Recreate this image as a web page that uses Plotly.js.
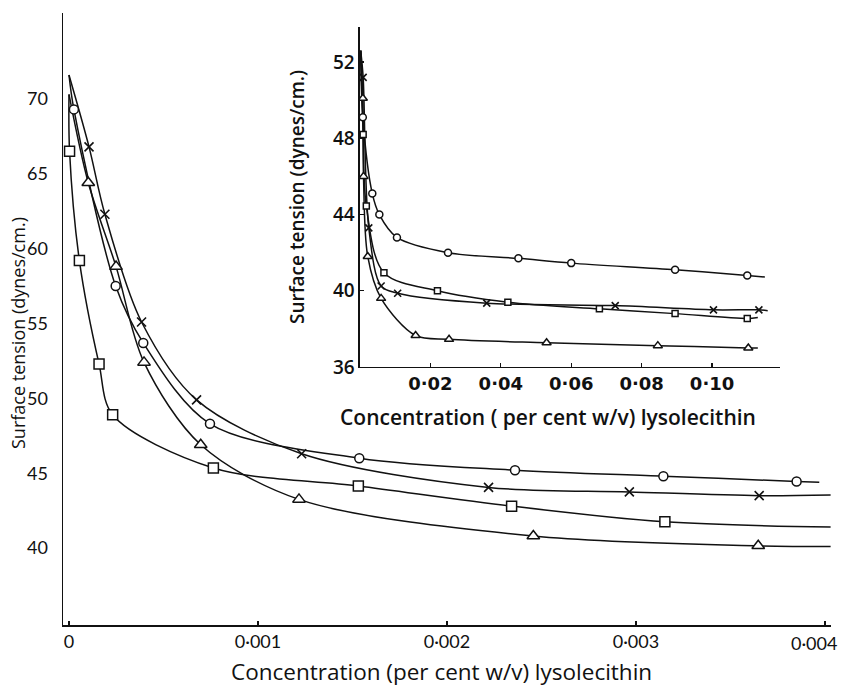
<!DOCTYPE html>
<html>
<head>
<meta charset="utf-8">
<script src="https://cdn.plot.ly/plotly-3.0.1.min.js"></script>
<style>
  html, body { margin: 0; padding: 0; background: #fff; }
  #chart { width: 842px; height: 688px; }
</style>
</head>
<body>
<div id="chart"></div>
<script>
// Surface tension of lysolecithin solutions, four preparations (o, x, square, triangle).
// Main panel: low concentrations (per cent w/v); inset: the wider range.

// ---- main panel ----
const mainTickVals = [0, 0.001, 0.002, 0.003, 0.004];
const mainTickText = ['0', '0·001', '0·002', '0·003', '0·004'];
const mainYTicks = [40, 45, 50, 55, 60, 65, 70];

const mainCircleX = [0.000026, 0.000247, 0.000393, 0.000746, 0.001536, 0.00236, 0.003145, 0.00385];
const mainCircleY = [69.3, 57.5, 53.7, 48.3, 46.0, 45.2, 44.8, 44.45];
const mainCircleStart = [0, 71.6];
const mainCircleEnd = [0.00397, 44.4];

const mainCrossX = [0.000106, 0.00019, 0.000384, 0.000675, 0.001231, 0.00222, 0.002965, 0.003652];
const mainCrossY = [66.8, 62.3, 55.1, 49.9, 46.3, 44.05, 43.75, 43.5];
const mainCrossStart = [0, 71.6];
const mainCrossEnd = [0.00403, 43.55];

const mainSquareX = [0.000003, 0.000055, 0.000159, 0.000231, 0.000764, 0.001531, 0.002342, 0.003153];
const mainSquareY = [66.5, 59.2, 52.3, 48.9, 45.35, 44.15, 42.8, 41.75];
const mainSquareStart = [0, 70.3];
const mainSquareEnd = [0.00403, 41.4];

const mainTriX = [0.000102, 0.000249, 0.000397, 0.000697, 0.001217, 0.002457, 0.003647];
const mainTriY = [64.4, 58.8, 52.4, 46.9, 43.25, 40.8, 40.15];
const mainTriStart = [0, 70.3];
const mainTriEnd = [0.00403, 40.1];

// ---- inset ----
const insetTickVals = [0.02, 0.04, 0.06, 0.08, 0.10];
const insetTickText = ['0·02', '0·04', '0·06', '0·08', '0·10'];
const insetYTicks = [36, 40, 44, 48, 52];

const insetCircleX = [0.0008, 0.0035, 0.0055, 0.0105, 0.025, 0.045, 0.060, 0.0895, 0.110];
const insetCircleY = [49.1, 45.1, 44.0, 42.8, 42.0, 41.7, 41.45, 41.1, 40.8];
const insetCircleStart = [0.0002, 52.6];
const insetCircleEnd = [0.115, 40.72];

const insetCrossX = [0.0009, 0.0025, 0.006, 0.0107, 0.036, 0.0725, 0.1004, 0.1133];
const insetCrossY = [51.2, 43.3, 40.25, 39.87, 39.35, 39.22, 39.0, 39.0];
const insetCrossStart = [0.0002, 52.6];
const insetCrossEnd = [0.1158, 38.95];

const insetSquareX = [0.0009, 0.0018, 0.0068, 0.022, 0.042, 0.068, 0.0895, 0.110];
const insetSquareY = [48.2, 44.45, 40.95, 40.0, 39.4, 39.05, 38.8, 38.55];
const insetSquareStart = [0.0002, 52.6];
const insetSquareEnd = [0.113, 38.6];

const insetTriX = [0.0008, 0.0010, 0.0022, 0.006, 0.0158, 0.0253, 0.053, 0.0846, 0.1103];
const insetTriY = [50.1, 46.0, 41.8, 39.6, 37.65, 37.45, 37.27, 37.12, 37.0];
const insetTriStart = [0.0002, 52.6];
const insetTriEnd = [0.113, 37.0];

const INK = '#111';
const FONT = 'Lato, "Open Sans", sans-serif';
const WIDE = '"Open Sans", Lato, sans-serif';
const ROUND = '"DejaVu Sans", "Open Sans", sans-serif';

function curve(xs, ys, start, end, axes) {
  return {
    x: [start[0]].concat(xs, [end[0]]),
    y: [start[1]].concat(ys, [end[1]]),
    xaxis: axes[0], yaxis: axes[1],
    mode: 'lines',
    line: { color: INK, width: 1.5, shape: 'spline', smoothing: 0.9 },
    hoverinfo: 'skip', showlegend: false
  };
}

// hollow marks with a white fill, so each curve appears broken at its points
function marks(xs, ys, symbol, size, axes) {
  return {
    x: xs, y: ys,
    xaxis: axes[0], yaxis: axes[1],
    mode: 'markers',
    marker: { symbol: symbol, size: size, color: '#fff',
              line: { color: INK, width: 1.5 } },
    hoverinfo: 'skip', showlegend: false
  };
}

function crosses(xs, ys, size, axes) {
  return {
    x: xs, y: ys,
    xaxis: axes[0], yaxis: axes[1],
    mode: 'markers',
    marker: { symbol: 'x-thin-open', size: size, color: INK,
              line: { color: INK, width: 1.6 } },
    hoverinfo: 'skip', showlegend: false
  };
}

const M = ['x', 'y'];
const I = ['x2', 'y2'];

const traces = [
  curve(mainCircleX, mainCircleY, mainCircleStart, mainCircleEnd, M),
  curve(mainCrossX, mainCrossY, mainCrossStart, mainCrossEnd, M),
  curve(mainSquareX, mainSquareY, mainSquareStart, mainSquareEnd, M),
  curve(mainTriX, mainTriY, mainTriStart, mainTriEnd, M),
  marks(mainCircleX, mainCircleY, 'circle', 9, M),
  crosses(mainCrossX, mainCrossY, 9, M),
  marks(mainSquareX, mainSquareY, 'square', 10, M),
  marks(mainTriX, mainTriY, 'triangle-up', 11, M),

  curve(insetCircleX, insetCircleY, insetCircleStart, insetCircleEnd, I),
  curve(insetCrossX, insetCrossY, insetCrossStart, insetCrossEnd, I),
  curve(insetSquareX, insetSquareY, insetSquareStart, insetSquareEnd, I),
  curve(insetTriX, insetTriY, insetTriStart, insetTriEnd, I),
  marks(insetCircleX, insetCircleY, 'circle', 7, I),
  crosses(insetCrossX, insetCrossY, 7, I),
  marks(insetSquareX, insetSquareY, 'square', 6, I),
  marks(insetTriX, insetTriY, 'triangle-up', 8, I)
];

const axisBase = {
  showgrid: false, zeroline: false, showline: true,
  linecolor: INK, linewidth: 1.5, mirror: false,
  tickcolor: INK, tickwidth: 1.2
};

// the last main x label is right-aligned at its tick so it stays inside the page
const lastTick = mainTickVals.length - 1;
const mainAxisText = mainTickText.map((t, i) => (i === lastTick ? '' : t));

const layout = {
  width: 842, height: 688,
  margin: { l: 63, r: 11, t: 13, b: 63 },
  paper_bgcolor: '#fff', plot_bgcolor: 'rgba(0,0,0,0)',
  font: { family: FONT, color: INK, size: 18 },
  showlegend: false,
  xaxis: Object.assign({}, axisBase, {
    domain: [0, 1], anchor: 'y',
    range: [-0.0000317, 0.004032],
    tickmode: 'array', tickvals: mainTickVals, ticktext: mainAxisText,
    ticks: 'inside', ticklen: 4,
    tickfont: { family: FONT, size: 18, color: INK }
  }),
  yaxis: Object.assign({}, axisBase, {
    domain: [0, 1], anchor: 'x',
    range: [34.86, 75.74],
    tickmode: 'array', tickvals: mainYTicks,
    ticks: '', ticklabelstandoff: 10,
    tickfont: { family: FONT, size: 18, color: INK }
  }),
  xaxis2: Object.assign({}, axisBase, {
    domain: [0.3867, 0.9336], anchor: 'y2',
    range: [0, 0.1193],
    tickmode: 'array', tickvals: insetTickVals, ticktext: insetTickText,
    ticks: 'inside', ticklen: 4,
    tickfont: { family: ROUND, size: 18, color: INK, weight: 600 }
  }),
  yaxis2: Object.assign({}, axisBase, {
    domain: [0.4216, 0.9771], anchor: 'x2',
    range: [36, 53.84],
    tickmode: 'array', tickvals: insetYTicks,
    ticks: 'inside', ticklen: 4,
    tickfont: { family: WIDE, size: 19, color: INK, weight: 600 }
  }),
  annotations: [
    { text: mainTickText[lastTick], xref: 'x', yref: 'paper',
      x: mainTickVals[lastTick], y: 0, yshift: -18, xshift: 14,
      xanchor: 'right', yanchor: 'middle', showarrow: false,
      font: { family: FONT, size: 18, color: INK } },
    { text: 'Concentration (per cent w/v) lysolecithin', xref: 'paper', yref: 'paper',
      x: (441 - 63) / 768, y: -(671 - 625) / 612, xanchor: 'center', yanchor: 'middle',
      showarrow: false, font: { family: WIDE, size: 22.5, color: INK } },
    { text: 'Surface tension (dynes/cm.)', xref: 'paper', yref: 'paper',
      x: (18 - 63) / 768, y: (625 - 333) / 612, xanchor: 'center', yanchor: 'middle',
      textangle: -90, showarrow: false, font: { family: WIDE, size: 18, color: INK } },
    { text: 'Concentration ( per cent w/v) lysolecithin', xref: 'paper', yref: 'paper',
      x: (548 - 63) / 768, y: (625 - 417) / 612, xanchor: 'center', yanchor: 'middle',
      showarrow: false, font: { family: WIDE, size: 21, color: INK, weight: 600 } },
    { text: 'Surface tension (dynes/cm.)', xref: 'paper', yref: 'paper',
      x: (297 - 63) / 768, y: (625 - 197) / 612, xanchor: 'center', yanchor: 'middle',
      textangle: -90, showarrow: false, font: { family: WIDE, size: 19, color: INK, weight: 600 } }
  ]
};

Plotly.newPlot('chart', traces, layout, { staticPlot: true, displayModeBar: false });
</script>
</body>
</html>
